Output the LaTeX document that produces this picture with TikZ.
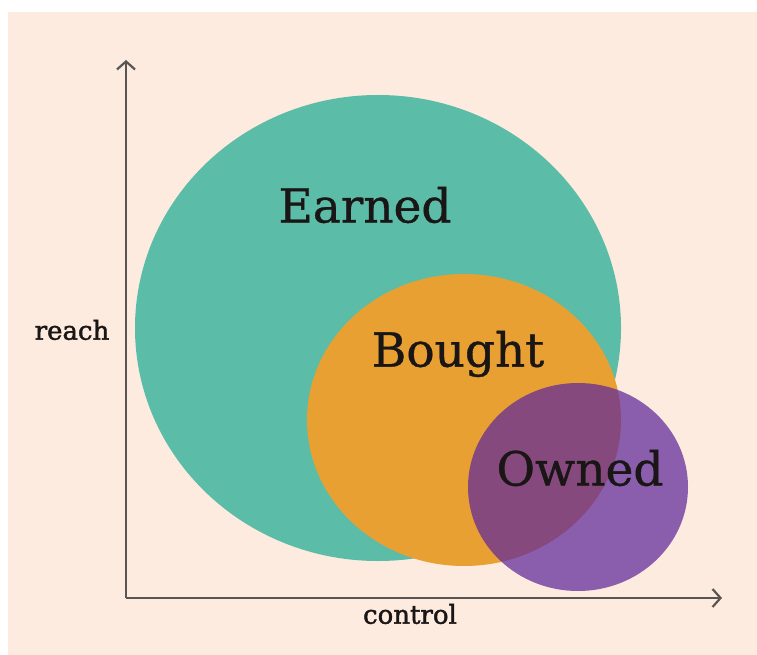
\documentclass[tikz,border=0pt]{standalone}
\usepackage{fontspec}
\setmainfont{DejaVu Serif}
\newfontfamily\heavyserif[FakeBold=1.6]{DejaVu Serif}
\newfontfamily\midserif[FakeBold=0.8]{DejaVu Serif}
\usetikzlibrary{arrows.meta}
\definecolor{paper}{RGB}{252,235,222}
\definecolor{earnedc}{RGB}{91,188,168}
\definecolor{boughtc}{RGB}{232,160,51}
\definecolor{ownedc}{RGB}{96,40,155}
\definecolor{axisc}{RGB}{90,85,82}
\definecolor{inkc}{RGB}{26,22,22}
\begin{document}
\begin{tikzpicture}[x=1pt,y=-1pt,
  axis/.style={draw=axisc,line width=2.6pt,-{Straight Barb[length=8pt,width=18pt,line width=2.2pt]}},
  biglabel/.style={text=inkc,font=\midserif\fontsize{47}{50}\selectfont,inner sep=0pt},
  axislabel/.style={text=inkc,font=\heavyserif\fontsize{26}{28}\selectfont,inner sep=0pt}]
  \useasboundingbox (0,0) rectangle (757,655);
  \fill[white] (0,0) rectangle (757,655);
  \fill[paper] (8,12) rectangle (757,655);

  % the three sets
  \fill[earnedc] (378,328) ellipse [x radius=243, y radius=233];
  \fill[boughtc] (464,420) ellipse [x radius=157, y radius=146];
  \fill[ownedc,fill opacity=0.72] (578,487) ellipse [x radius=110, y radius=104];

  \node[biglabel] (earned) at (365,205) {Earned};
  \node[biglabel] (bought) at (458,354) {Bought};
  \node[biglabel] (owned) at (580,468) {Owned};

  % axes
  \coordinate (origin) at (126,598);
  \coordinate (ytip) at (126,60);
  \coordinate (xtip) at (722,598);
  \draw[axis] (origin) -- (ytip);
  \draw[axis] (origin) -- (xtip);

  \node[axislabel] (reach) at (72,330) {reach};
  \node[axislabel] (control) at (410,614) {control};
\end{tikzpicture}
\end{document}
